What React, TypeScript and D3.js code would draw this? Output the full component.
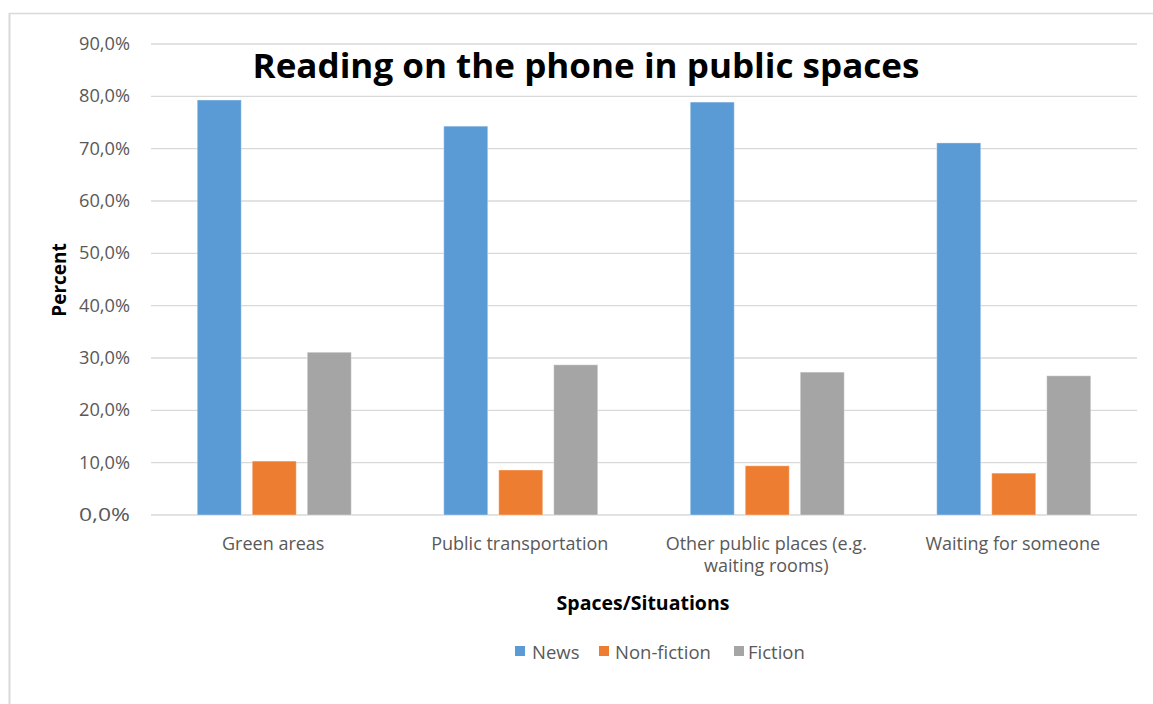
import React from "react";
import * as d3 from "d3";

const categories = ["Green areas", "Public transportation", "Other public places (e.g. waiting rooms)", "Waiting for someone"];
const categoryLines = [["Green areas"], ["Public transportation"], ["Other public places (e.g.", "waiting rooms)"], ["Waiting for someone"]];
const seriesNames = ["News", "Non-fiction", "Fiction"];
const seriesColors = ["#5b9bd5", "#ed7d31", "#a5a5a5"];
const newsValues = [79.3, 74.3, 78.9, 71.1];
const nonFictionValues = [10.3, 8.6, 9.4, 8.0];
const fictionValues = [31.1, 28.7, 27.3, 26.6];
const yTicks = [0, 10, 20, 30, 40, 50, 60, 70, 80, 90];

const W = 1153, H = 704;
const plot = { left: 151, right: 1137, top: 44, bottom: 515 };
const font = "'Open Sans', sans-serif";

export default function App() {
  const series = [newsValues, nonFictionValues, fictionValues];
  const x0 = d3.scaleBand().domain(categories).range([plot.left, plot.right]).paddingInner(0).paddingOuter(0);
  const groupW = 154;
  const x1 = d3.scaleBand().domain(seriesNames).range([0, groupW]).paddingInner(0.2);
  const y = d3.scaleLinear().domain([0, 90]).range([plot.bottom, plot.top]);
  const fmt = (v: number) => v.toFixed(1).replace(".", ",") + "%";
  const legendX = [515, 599, 734];
  const legendTextX = [532, 615, 748];

  return (
    <svg width={W} height={H} style={{ position: "absolute", left: 0, top: 0, background: "#fff" }}>
      <line x1={9.5} x2={9.5} y1={13} y2={H} stroke="#d9d9d9" strokeWidth={2} />
      <line x1={9} x2={W} y1={13.5} y2={13.5} stroke="#d9d9d9" strokeWidth={1.5} />
      {yTicks.map((t) => (
        <g key={t}>
          <line x1={plot.left} x2={plot.right} y1={y(t)} y2={y(t)} stroke="#d9d9d9" strokeWidth={1.3} />
          <text x={130} y={y(t)} dy="0.35em" textAnchor="end" fontFamily={font} fontSize={17.5} fill="#595959" textLength={51} lengthAdjust="spacingAndGlyphs">{fmt(t)}</text>
        </g>
      ))}
      {categories.map((c, ci) => {
        const gx = (x0(c) as number) + x0.bandwidth() / 2 - groupW / 2;
        return (
          <g key={c}>
            {series.map((vals, si) => (
              <rect key={si} x={gx + (x1(seriesNames[si]) as number)} width={x1.bandwidth()} y={y(vals[ci])} height={y(0) - y(vals[ci])} fill={seriesColors[si]} stroke="#fff" strokeOpacity={0.35} strokeWidth={1} />
            ))}
            {categoryLines[ci].map((ln, li) => (
              <text key={li} x={(x0(c) as number) + x0.bandwidth() / 2 - 1} y={550 + li * 22} textAnchor="middle" fontFamily={font} fontSize={18} fill="#595959">{ln}</text>
            ))}
          </g>
        );
      })}
      <text x={586} y={78} textAnchor="middle" fontFamily={font} fontWeight={700} fontSize={34} fill="#000" textLength={667} lengthAdjust="spacingAndGlyphs">Reading on the phone in public spaces</text>
      <text transform={`translate(66,${280}) rotate(-90)`} textAnchor="middle" fontFamily={font} fontWeight={700} fontSize={19} fill="#000">Percent</text>
      <text x={643} y={610} textAnchor="middle" fontFamily={font} fontWeight={700} fontSize={19.5} fill="#000">Spaces/Situations</text>
      {seriesNames.map((s, i) => (
        <g key={s}>
          <rect x={legendX[i]} y={646} width={10} height={10} fill={seriesColors[i]} />
          <text x={legendTextX[i]} y={659} fontFamily={font} fontSize={18.5} fill="#595959">{s}</text>
        </g>
      ))}
    </svg>
  );
}
